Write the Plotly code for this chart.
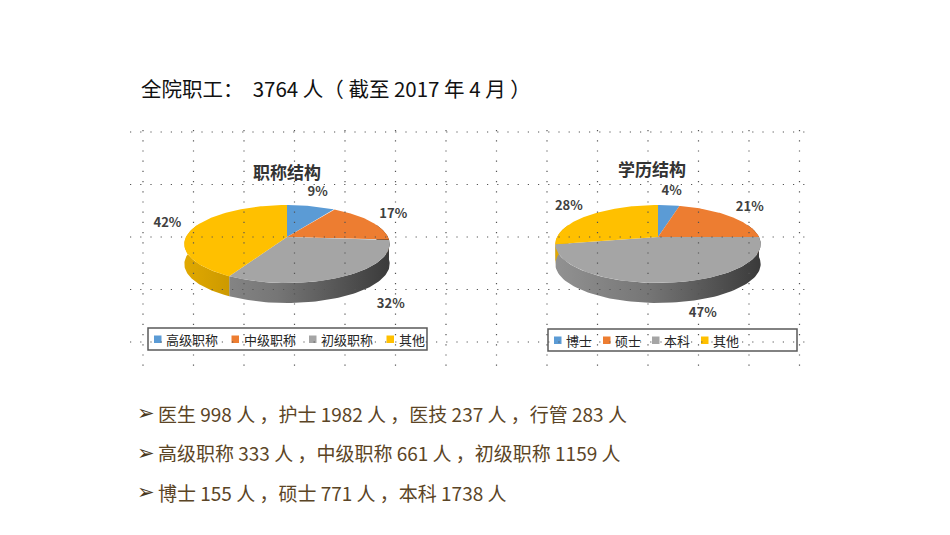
# Staff structure slide: two 3D-style pies drawn as filled scatter shapes

import numpy as np
import plotly.graph_objects as go

total_staff = 3764
staff_roles = ['医生', '护士', '医技', '行管']
staff_counts = [998, 1982, 237, 283]
title_names = ['高级职称', '中级职称', '初级职称']
title_counts = [333, 661, 1159]
edu_names = ['博士', '硕士', '本科']
edu_counts = [155, 771, 1738]

# percentages as printed on the pies
title_levels = ['高级职称', '中级职称', '初级职称', '其他']
title_pct = [9, 17, 32, 42]
edu_levels = ['博士', '硕士', '本科', '其他']
edu_pct = [4, 21, 47, 28]

colors = ['#5B9BD5', '#ED7D31', '#A5A5A5', '#FFC000']
font = 'Noto Sans CJK SC'
NB = '\u00a0'

RX, RY, PERSP, DEPTH = 101, 37.7, 0.18, 20
OFF = 8  # page body margin: the figure starts 8px in


def shade(c, f):
    r, g, b = (int(c[i:i + 2], 16) for i in (1, 3, 5))
    return 'rgb(%d,%d,%d)' % (r * f, g * f, b * f)


def proj(cx, cy, theta, dy=0.0, rx=RX, ry=RY):
    t = np.radians(theta)
    w = 1 / (1 + PERSP * np.cos(t))
    return cx + rx * np.sin(t) * w, cy - ry * np.cos(t) * w + dy


def pie3d(fig, cx, cy, values, names, legend):
    cum = np.concatenate([[0], np.cumsum(values)]) / sum(values) * 360
    # side walls (front half only)
    for i, v in enumerate(values):
        lo, hi = max(cum[i], 70), min(cum[i + 1], 290)
        if hi <= lo:
            continue
        th = np.linspace(lo, hi, 80)
        x1, y1 = proj(cx, cy, th)
        x2, y2 = proj(cx, cy, th[::-1], DEPTH)
        fig.add_trace(go.Scatter(
            x=np.concatenate([x1, x2]), y=np.concatenate([y1, y2]),
            fill='toself', mode='lines', line=dict(width=0),
            fillgradient=dict(
                type='horizontal', start=cx - RX, stop=cx + RX,
                colorscale=[[0, shade(colors[i], .88)],
                            [0.45, shade(colors[i], .72)],
                            [1, shade(colors[i], .36)]]),
            hoverinfo='skip', showlegend=False))
    # top faces
    for i, v in enumerate(values):
        th = np.linspace(cum[i], cum[i + 1], 120)
        x, y = proj(cx, cy, th)
        fig.add_trace(go.Scatter(
            x=np.concatenate([[cx], x, [cx]]), y=np.concatenate([[cy], y, [cy]]),
            fill='toself', mode='lines', line=dict(width=0),
            fillcolor=colors[i], name=names[i], hoverinfo='name',
            showlegend=False))
    # percentage labels (front labels sit lower and a bit to the right)
    mid = (cum[:-1] + cum[1:]) / 2
    lx, ly = proj(cx, cy, mid, rx=RX + 28, ry=RY + 16)
    front = np.cos(np.radians(mid)) < 0
    lx = lx + np.where(front, 30, 0)
    ly = ly + np.where(front, 12, 0)
    fig.add_trace(go.Scatter(
        x=lx, y=ly, mode='text', text=['%d%%' % v for v in values],
        textfont=dict(family=font, size=13, color='#404040', weight='bold'),
        hoverinfo='skip', showlegend=False))
    # legend box
    x0, x1, y0, y1, step = legend
    fig.add_shape(type='rect', x0=x0, x1=x1, y0=y0, y1=y1,
                  line=dict(color='#5a5a5a', width=1.5), fillcolor='white',
                  layer='below')
    ym = (y0 + y1) / 2
    for i, n in enumerate(names):
        sx = x0 + 6 + i * step
        fig.add_shape(type='rect', x0=sx, x1=sx + 7.5, y0=ym - 3.5, y1=ym + 4,
                      line=dict(width=0), fillcolor=colors[i])
        fig.add_annotation(x=sx + 10, y=ym, text=n, showarrow=False,
                           xanchor='left', yanchor='middle',
                           font=dict(family=font, size=13, color='#262626'))


fig = go.Figure()
pie3d(fig, 287, 237, title_pct, title_levels, (148, 427, 328, 350, 77.5))
pie3d(fig, 658, 237, edu_pct, edu_levels, (548, 797, 329, 351, 49))

fig.add_annotation(x=287, y=171, text='<b>职称结构</b>', showarrow=False,
                   font=dict(family=font, size=17, color='#333333'))
fig.add_annotation(x=652, y=168, text='<b>学历结构</b>', showarrow=False,
                   font=dict(family=font, size=17, color='#333333'))

# dotted slide grid, drawn over the chart picture
for k in range(14):
    gx = 143 + k * 50.5
    fig.add_shape(type='line', x0=gx, x1=gx, y0=130, y1=366, layer='above',
                  line=dict(color='#555555', width=1.2, dash='1.2px,9px'))
for k in range(5):
    gy = 132 + k * 52.5
    fig.add_shape(type='line', x0=130, x1=806, y0=gy, y1=gy, layer='above',
                  line=dict(color='#555555', width=1.2, dash='1.2px,9px'))

header = ('全院职工：' + NB * 2 + '%d 人（' + NB + '截至 2017 年 4 月' + NB + '）') % total_staff
fig.add_annotation(x=139, y=88, text=header, showarrow=False, xanchor='left',
                   font=dict(family=font, size=20.5, color='#111111'))

sep = NB + '，'
lines = [
    sep.join('%s %d 人' % (a, b) for a, b in zip(staff_roles, staff_counts)),
    sep.join('%s %d 人' % (a, b) for a, b in zip(title_names, title_counts)),
    sep.join('%s %d 人' % (a, b) for a, b in zip(edu_names, edu_counts)),
]
for i, t in enumerate(lines):
    y = 413 + i * 39.5
    fig.add_annotation(x=135, y=y, text='➢', showarrow=False, xanchor='left',
                       font=dict(family='DejaVu Sans', size=21, color='#4a3820'))
    fig.add_annotation(x=156, y=y, text=t, showarrow=False, xanchor='left',
                       font=dict(family=font, size=19, color='#5B4526'))

fig.update_xaxes(range=[OFF, 950 - OFF], visible=False, fixedrange=True)
fig.update_yaxes(range=[535 - OFF, OFF], visible=False, fixedrange=True)
fig.update_layout(
    width=950 - 2 * OFF, height=535 - 2 * OFF, autosize=False,
    margin=dict(l=0, r=0, t=0, b=0),
    plot_bgcolor='white', paper_bgcolor='white',
    showlegend=False,
)

fig.write_html("out.html")
